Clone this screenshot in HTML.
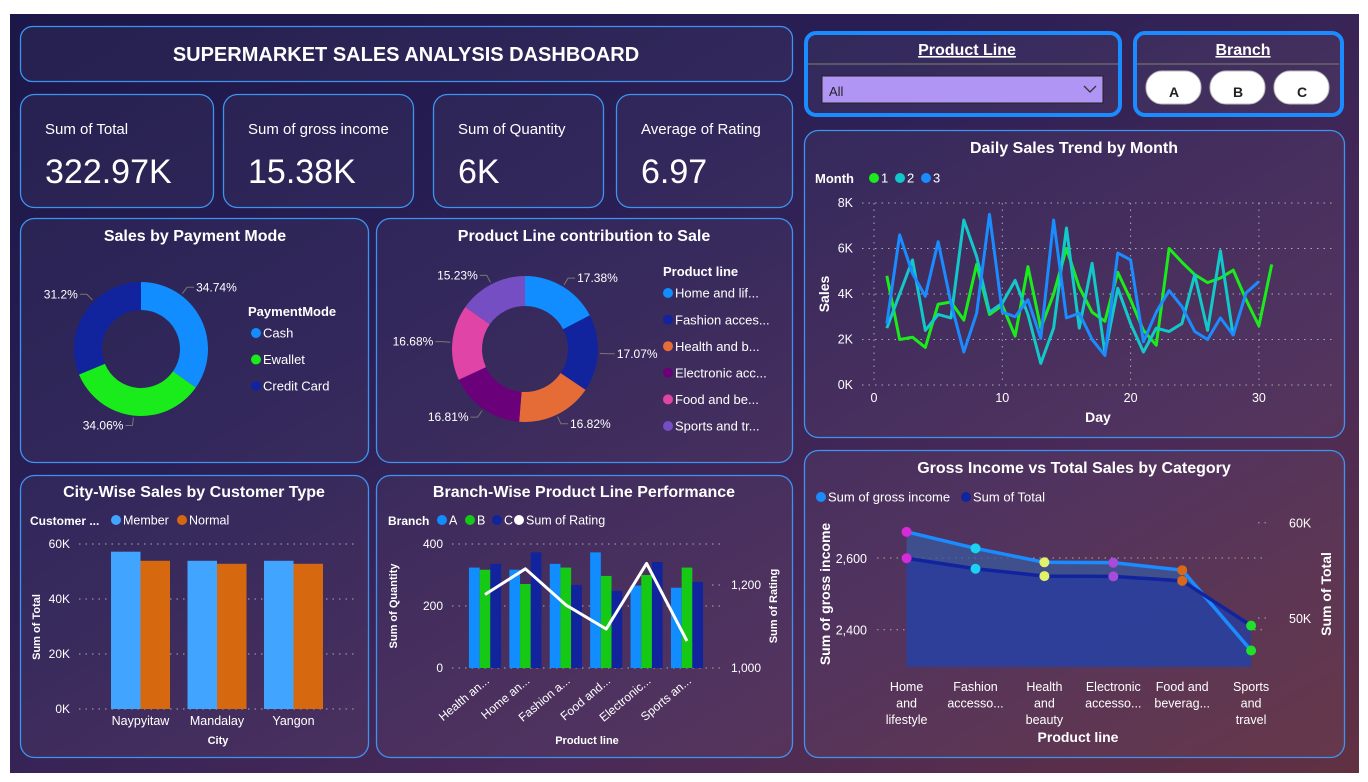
<!DOCTYPE html>
<html><head><meta charset="utf-8">
<style>
html,body{margin:0;padding:0;background:#fff;}
body{width:1368px;height:782px;position:relative;overflow:hidden;font-family:"Liberation Sans",sans-serif;}
#bg{position:absolute;left:10px;top:14px;width:1349px;height:759px;background:linear-gradient(150deg,#1b1748 0%,#2a1f55 35%,#4a2a58 70%,#613042 100%);}
svg{position:absolute;left:0;top:0;}
text{font-family:"Liberation Sans",sans-serif;fill:#fff;}
</style></head>
<body>
<div id="bg"></div>
<svg id="s" width="1368" height="782" viewBox="0 0 1368 782">
<g id="panels"></g>
<g id="static">
<text x="406" y="61" font-size="20" font-weight="bold" text-anchor="middle">SUPERMARKET SALES ANALYSIS DASHBOARD</text>
<text x="45" y="134" font-size="15">Sum of Total</text>
<text x="45" y="183" font-size="34">322.97K</text>
<text x="248" y="134" font-size="15">Sum of gross income</text>
<text x="248" y="183" font-size="34">15.38K</text>
<text x="458" y="134" font-size="15">Sum of Quantity</text>
<text x="458" y="183" font-size="34">6K</text>
<text x="641" y="134" font-size="15">Average of Rating</text>
<text x="641" y="183" font-size="34">6.97</text>

<text x="195" y="241" font-size="16" font-weight="bold" text-anchor="middle">Sales by Payment Mode</text>
<text x="584" y="241" font-size="16" font-weight="bold" text-anchor="middle">Product Line contribution to Sale</text>
<text x="194" y="497" font-size="16" font-weight="bold" text-anchor="middle">City-Wise Sales by Customer Type</text>
<text x="584" y="497" font-size="16" font-weight="bold" text-anchor="middle">Branch-Wise Product Line Performance</text>
<text x="1074" y="153" font-size="16" font-weight="bold" text-anchor="middle">Daily Sales Trend by Month</text>
<text x="1074" y="473" font-size="16" font-weight="bold" text-anchor="middle">Gross Income vs Total Sales by Category</text>

<text x="967" y="55" font-size="16" font-weight="bold" text-anchor="middle" text-decoration="underline">Product Line</text>
<line x1="808" y1="64" x2="1118" y2="64" stroke="#666" stroke-width="1.5"/>
<g>
<rect x="822" y="76" width="281" height="27" fill="#b095f5" stroke="#222" stroke-width="1"/>
<text x="829" y="96" font-size="13" style="fill:#222">All</text>
<path d="M1084 86 L1090 92 L1096 86" fill="none" stroke="#333" stroke-width="1.3"/>
</g>
<text x="1243" y="55" font-size="16" font-weight="bold" text-anchor="middle" text-decoration="underline">Branch</text>
<line x1="1137" y1="64" x2="1339" y2="64" stroke="#666" stroke-width="1.5"/>
<g><rect x="1146" y="71" width="55" height="33" rx="16" fill="#fff" stroke="#bbb"/><text x="1174" y="97" font-size="14" font-weight="bold" text-anchor="middle" style="fill:#222">A</text></g>
<g><rect x="1210" y="71" width="55" height="33" rx="16" fill="#fff" stroke="#bbb"/><text x="1238" y="97" font-size="14" font-weight="bold" text-anchor="middle" style="fill:#222">B</text></g>
<g><rect x="1274" y="71" width="55" height="33" rx="16" fill="#fff" stroke="#bbb"/><text x="1302" y="97" font-size="14" font-weight="bold" text-anchor="middle" style="fill:#222">C</text></g>
</g>
<g id="charts"></g>
</svg>
<script>
// ---- data ----
const payLabels=["Cash","Ewallet","Credit Card"];
const payValues=[34.74,34.06,31.2];
const prodLabels=["Home and lif...","Fashion acces...","Health and b...","Electronic acc...","Food and be...","Sports and tr..."];
const prodValues=[17.38,17.07,16.82,16.81,16.68,15.23];
const cities=["Naypyitaw","Mandalay","Yangon"];
const memberSales=[57.2,53.9,53.9];
const normalSales=[53.9,52.8,52.8];
const cityTicks=["0K","20K","40K","60K"];
const branchCats=["Health an...","Home an...","Fashion a...","Food and...","Electronic...","Sports an..."];
const qtyA=[324,317,336,373,266,259];
const qtyB=[317,271,324,297,300,324];
const qtyC=[336,373,268,249,342,278];
const ratingSum=[1177,1239,1152,1094,1252,1065];
const month1=[4.8,2.0,2.1,1.65,3.55,3.65,2.85,5.3,3.1,3.5,2.15,5.2,2.5,4.0,6.0,4.3,3.2,2.8,4.95,3.75,2.4,1.75,6.0,5.4,4.85,4.5,4.7,5.05,3.75,2.6,5.3];
const month2=[2.5,4.0,5.5,2.4,3.1,2.95,7.25,5.65,3.2,3.6,4.6,3.1,0.95,2.5,6.9,2.5,5.35,1.4,4.25,2.7,1.45,2.5,2.35,2.7,4.85,2.4,5.9,2.15];
const month3=[2.7,6.6,4.9,3.9,6.3,3.6,1.45,3.15,7.5,3.2,3.0,3.75,2.05,7.25,2.95,3.15,2.0,1.3,5.8,5.5,1.9,3.2,4.15,3.45,2.35,2.0,2.95,2.2,4.05,4.55];
const grossCats=[["Home","and","lifestyle"],["Fashion","accesso..."],["Health","and","beauty"],["Electronic","accesso..."],["Food and","beverag..."],["Sports","and","travel"]];
const grossIncome=[2673,2627,2588,2587,2566,2342];
const totalSales=[56.27,55.17,54.4,54.37,53.9,49.2];

const NS="http://www.w3.org/2000/svg";
function mk(tag,attrs,parent,txt){const e=document.createElementNS(NS,tag);for(const k in attrs)e.setAttribute(k,attrs[k]);if(txt!==undefined)e.textContent=txt;(parent||C).appendChild(e);return e;}
const C=document.getElementById('charts');
const P=document.getElementById('panels');

const panels=[["title-panel",20,26,772,55,12],["kpi-total-card",20,94,193,113,14],["kpi-gross-card",223,94,190,113,14],["kpi-quantity-card",433,94,170,113,14],["kpi-rating-card",616,94,176,113,14],
["payment-panel",20,218,348,244,14],["productline-panel",376,218,416,244,14],["city-panel",20,475,348,282,14],["branch-panel",376,475,416,282,14],["daily-panel",804,130,540,307,14],["gross-panel",804,450,540,307,14]];
panels.forEach(p=>{const r=mk('rect',{x:p[1]+0.5,y:p[2]+0.5,width:p[3],height:p[4],rx:p[5],fill:'rgba(255,255,255,0.045)',stroke:'#3d94f0','stroke-width':1.3},P);

});
[["product-line-slicer",806,33,314,82],["branch-slicer",1135,33,207,82]].forEach(p=>{const r=mk('rect',{x:p[1],y:p[2],width:p[3],height:p[4],rx:10,fill:'rgba(255,255,255,0.05)',stroke:'#1a8cff','stroke-width':4},P);

});

function donut(cx,cy,ro,ri,vals,cols,name){
  const tot=vals.reduce((a,b)=>a+b,0);let a0=-Math.PI/2;const g=mk('g',{});
  
  
  const mids=[];
  vals.forEach((v,i)=>{const a1=a0+v/tot*2*Math.PI;const lg=(a1-a0)>Math.PI?1:0;
    const p=`M${cx+ro*Math.cos(a0)} ${cy+ro*Math.sin(a0)} A${ro} ${ro} 0 ${lg} 1 ${cx+ro*Math.cos(a1)} ${cy+ro*Math.sin(a1)} L${cx+ri*Math.cos(a1)} ${cy+ri*Math.sin(a1)} A${ri} ${ri} 0 ${lg} 0 ${cx+ri*Math.cos(a0)} ${cy+ri*Math.sin(a0)}Z`;
    const s=mk('path',{d:p,fill:cols[i]},g);
    
    
    mids.push((a0+a1)/2);a0=a1;});
  return mids;
}
function legendDot(x,y,col,label,fs,bold){mk('circle',{cx:x,cy:y,r:5,fill:col});const t=mk('text',{x:x+7,y:y+fs*0.36,'font-size':fs,'font-weight':bold?'bold':'normal'},C,label);

}
function labels(cx,cy,ro,mids,vals,name,shift){
  mids.forEach((m0,i)=>{const m=m0+(shift?shift[i]:0);const r1=ro+2,r2=ro+10;const x1=cx+r1*Math.cos(m),y1=cy+r1*Math.sin(m),x2=cx+r2*Math.cos(m),y2=cy+r2*Math.sin(m);
  const right=Math.cos(m)>0;const x3=x2+(right?7:-7);
  mk('polyline',{points:`${x1},${y1} ${x2},${y2} ${x3},${y2}`,fill:'none',stroke:'#777','stroke-width':1});
  const t=mk('text',{x:x3+(right?2:-2),y:y2+4,'font-size':12,'text-anchor':right?'start':'end'},C,vals[i]+'%');
  
  });
}

// payment donut
const payCols=["#118dff","#1aeb1a","#12239e"];
let mids=donut(141,349,67,39,payValues,payCols,'payment-donut');
labels(141,349,67,mids,payValues,'payment-data-label',[-0.45,0,0.2]);
mk('text',{x:248,y:316,'font-size':13,'font-weight':'bold'},C,'PaymentMode');
payLabels.forEach((l,i)=>legendDot(256,333+i*26.5,payCols[i],l,13));

// product donut
const prodCols=["#118dff","#12239e","#e66c37","#6b007b","#e044a7","#744ec2"];
mids=donut(525,349,73,43,prodValues,prodCols,'productline-donut');
labels(525,349,73,mids,prodValues,'productline-data-label');
mk('text',{x:663,y:276,'font-size':13,'font-weight':'bold'},C,'Product line');
prodLabels.forEach((l,i)=>legendDot(668,293+i*26.6,prodCols[i],l,13));

function hgrid(x1,x2,y){mk('line',{x1:x1,x2:x2,y1:y,y2:y,stroke:'#aaa','stroke-width':1,'stroke-dasharray':'1.5 5'});}

// city chart
{const y0=709,y60=544;const ys=v=>y0-(v/60)*(y0-y60);
 cityTicks.forEach((t,i)=>{const y=ys(i*20);hgrid(79,355,y);const tt=mk('text',{x:70,y:y+4,'font-size':12,'text-anchor':'end'},C,t);
  
  });
 cities.forEach((c,i)=>{const cx=140.5+i*76.5;
  const b1=mk('rect',{x:cx-29.5,y:ys(memberSales[i]),width:29.5,height:y0-ys(memberSales[i]),fill:'#41a4ff'});
  
  
  const b2=mk('rect',{x:cx,y:ys(normalSales[i]),width:29.5,height:y0-ys(normalSales[i]),fill:'#d6690f'});
  
  
  const t=mk('text',{x:cx,y:725,'font-size':12.5,'text-anchor':'middle'},C,c);
  
  });
 mk('text',{x:218,y:744,'font-size':11,'font-weight':'bold','text-anchor':'middle'},C,'City');
 mk('text',{x:0,y:0,'font-size':11,'font-weight':'bold','text-anchor':'middle',transform:'translate(40 627) rotate(-90)'},C,'Sum of Total');
 mk('text',{x:30,y:525,'font-size':12,'font-weight':'bold'},C,'Customer ...');
 legendDot(116,520,'#41a4ff','Member',12.5);legendDot(182,520,'#d6690f','Normal',12.5);
}

// branch chart
{const y0=668,y400=544;const ys=v=>y0-v/400*(y0-y400);const yr=v=>y0-(v-1000)/200*(y0-585);
 [0,200,400].forEach(v=>{hgrid(452,720,ys(v));const t=mk('text',{x:443,y:ys(v)+4,'font-size':12,'text-anchor':'end'},C,String(v));
  
  });
 hgrid(712,722,yr(1200));
 [1000,1200].forEach(v=>{const t=mk('text',{x:731,y:yr(v)+4,'font-size':12},C,v.toLocaleString('en-US'));
  
  });
 const bw=10.7;const pts=[];
 branchCats.forEach((c,i)=>{const cx=485+i*40.4;
  [[qtyA,'#118dff','a'],[qtyB,'#15c915','b'],[qtyC,'#12239e','c']].forEach((s,j)=>{
   const v=s[0][i];const r=mk('rect',{x:cx-1.5*bw+j*bw,y:ys(v),width:bw,height:y0-ys(v),fill:s[1]});
   
   });
  pts.push(`${cx},${yr(ratingSum[i])}`);
  const t=mk('text',{x:0,y:0,'font-size':12,'text-anchor':'end',transform:`translate(${cx+5} ${682}) rotate(-40)`},C,c);
  
  });
 const l=mk('polyline',{points:pts.join(' '),fill:'none',stroke:'#fff','stroke-width':3,'stroke-linejoin':'round'});
 
 
 mk('text',{x:587,y:744,'font-size':11,'font-weight':'bold','text-anchor':'middle'},C,'Product line');
 mk('text',{x:0,y:0,'font-size':11,'font-weight':'bold','text-anchor':'middle',transform:'translate(397 606) rotate(-90)'},C,'Sum of Quantity');
 mk('text',{x:0,y:0,'font-size':11,'font-weight':'bold','text-anchor':'middle',transform:'translate(777 606) rotate(-90)'},C,'Sum of Rating');
 mk('text',{x:388,y:525,'font-size':12,'font-weight':'bold'},C,'Branch');
 legendDot(442,520,'#118dff','A',12.5);legendDot(470,520,'#15c915','B',12.5);legendDot(497,520,'#12239e','C',12.5);legendDot(519,520,'#fff','Sum of Rating',12.5);
}

// daily trend
{const xs=d=>874+d*12.83;const y0=385,y8=203;const ys=v=>y0-v/8*(y0-y8);
 [0,2,4,6,8].forEach(v=>{hgrid(862,1335,ys(v));const t=mk('text',{x:853,y:ys(v)+4,'font-size':12.5,'text-anchor':'end'},C,v+'K');
  
  });
 [0,10,20,30].forEach(d=>{mk('line',{x1:xs(d),x2:xs(d),y1:203,y2:385,stroke:'#aaa','stroke-dasharray':'1.5 5'});
  const t=mk('text',{x:xs(d),y:402,'font-size':12.5,'text-anchor':'middle'},C,String(d));
  
  });
 [[month1,'#1aeb1a','1'],[month2,'#12c8c8','2'],[month3,'#1a8cff','3']].forEach(s=>{
  const l=mk('polyline',{points:s[0].map((v,i)=>`${xs(i+1)},${ys(v)}`).join(' '),fill:'none',stroke:s[1],'stroke-width':3,'stroke-linejoin':'round'});
  
  });
 mk('text',{x:1098,y:422,'font-size':14,'font-weight':'bold','text-anchor':'middle'},C,'Day');
 mk('text',{x:0,y:0,'font-size':14,'font-weight':'bold','text-anchor':'middle',transform:'translate(829 294) rotate(-90)'},C,'Sales');
 mk('text',{x:815,y:183,'font-size':13,'font-weight':'bold'},C,'Month');
 legendDot(874,178,'#1aeb1a','1',13);legendDot(900,178,'#12c8c8','2',13);legendDot(926,178,'#1a8cff','3',13);
}

// gross vs total
{const xs=i=>906.6+i*68.9;const yg=v=>558-(v-2600)/200*71.7;const yt=v=>522.7+(60-v)/10*95.3;const yb=667;
 hgrid(877,1262,yg(2600));hgrid(877,1262,yg(2400));hgrid(1258,1266,yt(60));hgrid(1258,1266,yt(50));
 [2400,2600].forEach(v=>{const t=mk('text',{x:867,y:yg(v)+5,'font-size':12.5,'text-anchor':'end'},C,v.toLocaleString('en-US'));
  
  });
 [50,60].forEach(v=>{const t=mk('text',{x:1289,y:yt(v)+5,'font-size':12.5},C,v+'K');
  
  });
 const gp=grossIncome.map((v,i)=>`${xs(i)},${yg(v)}`);const tp=totalSales.map((v,i)=>`${xs(i)},${yt(v)}`);
 mk('path',{d:`M${xs(0)},${yb} L${gp.join(' L')} L${xs(5)},${yb}Z`,fill:'#3a5a9e','fill-opacity':0.75});
 mk('path',{d:`M${xs(0)},${yb} L${tp.join(' L')} L${xs(5)},${yb}Z`,fill:'#2a3c9a','fill-opacity':0.85});
 const l1=mk('polyline',{points:gp.join(' '),fill:'none',stroke:'#1a8cff','stroke-width':3.5});
 
 
 const l2=mk('polyline',{points:tp.join(' '),fill:'none',stroke:'#12239e','stroke-width':3.5});
 
 
 const dc=['#d62bd6','#1ad3f0','#e2f06a','#a64bdb','#d8691a','#1fe02b'];
 grossCats.forEach((c,i)=>{
  const a=mk('circle',{cx:xs(i),cy:yg(grossIncome[i]),r:5,fill:dc[i]});
  
  
  const b=mk('circle',{cx:xs(i),cy:yt(totalSales[i]),r:5,fill:dc[i]});
  
  
  c.forEach((w,k)=>{const t=mk('text',{x:xs(i),y:691+k*16.5,'font-size':12.5,'text-anchor':'middle'},C,w);
   
   });});
 mk('text',{x:1078,y:742,'font-size':14,'font-weight':'bold','text-anchor':'middle'},C,'Product line');
 mk('text',{x:0,y:0,'font-size':14,'font-weight':'bold','text-anchor':'middle',transform:'translate(830 594) rotate(-90)'},C,'Sum of gross income');
 mk('text',{x:0,y:0,'font-size':14,'font-weight':'bold','text-anchor':'middle',transform:'translate(1331 594) rotate(-90)'},C,'Sum of Total');
 legendDot(821,497,'#1a8cff','Sum of gross income',13);legendDot(966,497,'#12239e','Sum of Total',13);
}
</script>
</body></html>
